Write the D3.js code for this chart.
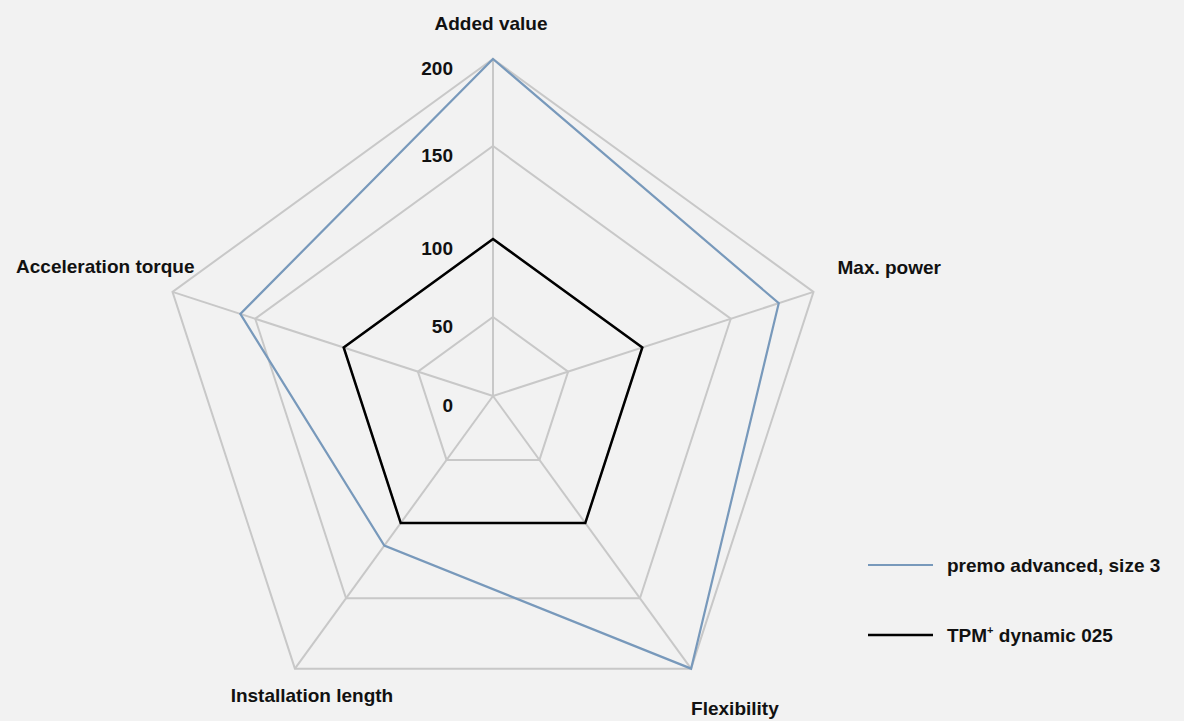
<!DOCTYPE html>
<html>
<head>
<meta charset="utf-8">
<script src="https://cdn.jsdelivr.net/npm/d3@7"></script>
<style>
  html, body { margin: 0; padding: 0; background: #f2f2f2; }
  svg { display: block; }
  text { font-family: "Liberation Sans", Arial, Helvetica, sans-serif; font-weight: bold; fill: #111; }
</style>
</head>
<body>
<svg id="chart" width="1184" height="721"></svg>
<script>
// radar: two gearbox profiles over five criteria

const AXES = ['Added value', 'Max. power', 'Flexibility', 'Installation length', 'Acceleration torque'];
const TICKS = [0, 50, 100, 150, 200];
const SERIES = ['premo advanced, size 3', 'TPM+ dynamic 025'];
const PREMO = [200, 179, 200, 115, 159];
const TPM = [100, 100, 100, 100, 100];

const W = 1184, H = 721;
const cx = 493, cy = 396;
const COLORS = ['#7899bb', '#000000'];
const GRID = '#c8c8c8';

// label placement relative to the outer vertex of each spoke
const LABEL_POS = [
  { anchor: 'middle', dx: -2, dy: -29 },
  { anchor: 'start', dx: 24, dy: -18 },
  { anchor: 'start', dx: 0, dy: 46 },
  { anchor: 'middle', dx: 17, dy: 33 },
  { anchor: 'end', dx: 22, dy: -19 }
];

const svg = d3.select('#chart');
svg.append('rect').attr('width', W).attr('height', H).attr('fill', '#f2f2f2');

const g = svg.append('g').attr('transform', `translate(${cx},${cy})`);

const r = d3.scaleLinear().domain(TICKS).range([0, 79, 157, 250, 337]);
const angle = d3.scaleLinear().domain([0, AXES.length]).range([0, 2 * Math.PI]);

const radial = d3.lineRadial()
  .angle((d, i) => angle(i))
  .radius(d => r(d))
  .curve(d3.curveLinearClosed);

const pt = (i, v) => {
  const a = angle(i);
  return [Math.sin(a) * r(v), -Math.cos(a) * r(v)];
};

// grid rings
TICKS.filter(t => t > 0).forEach(t => {
  g.append('path')
    .attr('d', radial(AXES.map(() => t)))
    .attr('fill', 'none')
    .attr('stroke', GRID)
    .attr('stroke-width', 2);
});

// spokes
const maxTick = d3.max(TICKS);
AXES.forEach((ax, i) => {
  const p = pt(i, maxTick);
  g.append('line')
    .attr('x1', 0).attr('y1', 0)
    .attr('x2', p[0]).attr('y2', p[1])
    .attr('stroke', GRID)
    .attr('stroke-width', 2);
});

// tick labels on the vertical spoke
TICKS.forEach(t => {
  g.append('text')
    .attr('x', -40)
    .attr('y', -r(t) + 16)
    .attr('text-anchor', 'end')
    .attr('font-size', 19)
    .text(t);
});

// axis labels
AXES.forEach((ax, i) => {
  const p = pt(i, maxTick);
  const lp = LABEL_POS[i];
  g.append('text')
    .attr('x', p[0] + lp.dx)
    .attr('y', p[1] + lp.dy)
    .attr('text-anchor', lp.anchor)
    .attr('font-size', 19)
    .text(ax);
});

// series polygons (black under blue)
[[TPM, COLORS[1], 2.5], [PREMO, COLORS[0], 2.2]].forEach(([vals, col, w]) => {
  g.append('path')
    .attr('d', radial(vals))
    .attr('fill', 'none')
    .attr('stroke', col)
    .attr('stroke-width', w)
    .attr('stroke-linejoin', 'miter');
});

// legend
const lg = svg.append('g').attr('transform', 'translate(868,565)');
SERIES.forEach((name, i) => {
  const row = lg.append('g').attr('transform', `translate(0,${i * 70})`);
  row.append('line')
    .attr('x1', 0).attr('x2', 65)
    .attr('y1', 0).attr('y2', 0)
    .attr('stroke', COLORS[i])
    .attr('stroke-width', i === 0 ? 2.2 : 2.5);
  const t = row.append('text')
    .attr('x', 79)
    .attr('y', 7)
    .attr('font-size', 19);
  if (name.includes('+')) {
    const [a, b] = name.split('+');
    t.append('tspan').text(a);
    t.append('tspan').attr('font-size', 11).attr('dy', -8).text('+');
    t.append('tspan').attr('dy', 8).text(b);
  } else {
    t.text(name);
  }
});
</script>
</body>
</html>
